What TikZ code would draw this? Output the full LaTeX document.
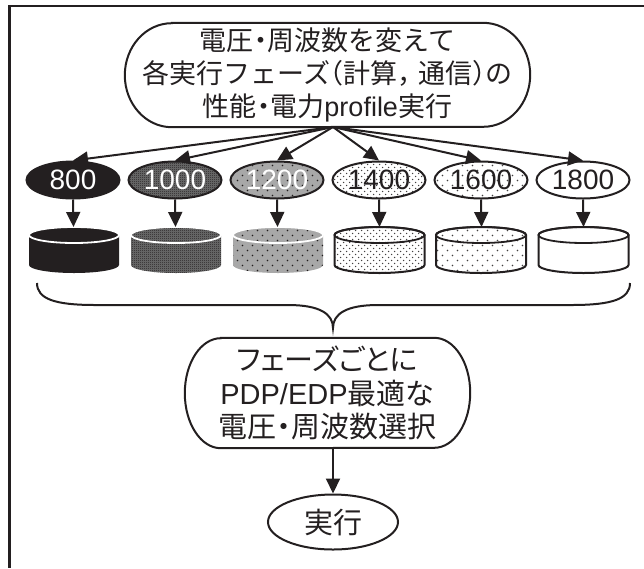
\documentclass[tikz,border=0pt]{standalone}
\usepackage{fontspec}
\usetikzlibrary{shapes.geometric,arrows.meta,patterns}
\newfontfamily\jp[RawFeature=+halt]{Noto Sans CJK JP}
\newfontfamily\jpp[RawFeature=+palt]{Noto Sans CJK JP}
\newfontfamily\lat{Liberation Sans}
\definecolor{ink}{HTML}{231F20}
\definecolor{midgray}{HTML}{6E6E6E}
\definecolor{lightgray}{HTML}{A8A8A8}

% fill textures for the frequency levels
\pgfdeclarepatternformonly{checker}{\pgfpointorigin}{\pgfpoint{2pt}{2pt}}{\pgfpoint{2pt}{2pt}}{%
  \pgfpathrectangle{\pgfpointorigin}{\pgfpoint{1pt}{1pt}}%
  \pgfpathrectangle{\pgfpoint{1pt}{1pt}}{\pgfpoint{1pt}{1pt}}%
  \pgfusepath{fill}}
\pgfdeclarepatternformonly{sparsedots}{\pgfpoint{-1pt}{-1pt}}{\pgfpoint{11pt}{11pt}}{\pgfpoint{10pt}{10pt}}{%
  \pgfpathcircle{\pgfpoint{2.5pt}{2.5pt}}{0.8pt}%
  \pgfpathcircle{\pgfpoint{7.5pt}{7.5pt}}{0.8pt}%
  \pgfusepath{fill}}
\pgfdeclarepatternformonly{densedots}{\pgfpoint{-1pt}{-1pt}}{\pgfpoint{7pt}{7pt}}{\pgfpoint{6pt}{6pt}}{%
  \pgfpathcircle{\pgfpoint{1.5pt}{1.5pt}}{0.75pt}%
  \pgfpathcircle{\pgfpoint{4.5pt}{4.5pt}}{0.75pt}%
  \pgfusepath{fill}}

\tikzset{
  outline/.style={line width=2pt, draw=ink},
  arr/.style={line width=2pt, draw=ink, -{Triangle[length=15pt,width=14pt]}},
  freq/.style={ellipse, line width=2pt, draw=ink, minimum width=93pt, minimum height=37pt,
    inner sep=0pt, font=\lat\fontsize{28pt}{28pt}\selectfont},
  s800/.style={fill=ink},
  s1000/.style={preaction={fill=midgray}, pattern=checker, pattern color=ink},
  s1200/.style={preaction={fill=lightgray}, pattern=sparsedots, pattern color=ink},
  s1400/.style={preaction={fill=white}, pattern=densedots, pattern color=ink!85},
  s1600/.style={preaction={fill=white}, pattern=sparsedots, pattern color=ink!85},
  s1800/.style={fill=white},
  txtbox/.style={inner sep=0pt, align=center, text=ink},
}

\begin{document}
\begin{tikzpicture}[x=1pt,y=1pt]
\useasboundingbox (0,0) rectangle (644,-568);

% frame (top and left edges)
\draw[line width=2.3pt, draw=ink] (644,-6) -- (9.5,-6) -- (9.5,-568);

% top process node
\node[txtbox, minimum width=405pt, minimum height=104pt,
      font=\jp\fontsize{27pt}{33pt}\selectfont] (top) at (327.5,-75)
  {電圧・周波数を変えて\\各実行フェーズ（計算，\kern7pt 通信）の\\性能・電力{\lat profile}実行};
\draw[outline] ([xshift=47pt]top.north west) -- ([xshift=-47pt]top.north east)
  arc (90:-90:47pt and 52pt) -- ([xshift=47pt]top.south west)
  arc (270:90:47pt and 52pt) -- cycle;
\coordinate (fan) at (333,-127);

% frequency levels
\foreach \i/\cx/\lab/\tc in {1/73/800/white, 2/175/1000/white, 3/277/1200/white,
                             4/379/1400/ink, 5/481/1600/ink, 6/583/1800/ink}{
  \node[freq, s\lab, text=\tc] (e\i) at (\cx,-180) {\lab};
  \coordinate (cyl\i) at (\cx+0.5,-227);
}

% cylinders: dark ones with a white rim, light ones outlined
\foreach \cx/\lab/\rim/\bw in {74/800/white/0, 176/1000/white/0, 278/1200/white/0,
                               379.5/1400/ink/2, 481/1600/ink/2, 583.5/1800/ink/2}{
  \ifdim\bw pt>0pt
    \path[s\lab, line width=2pt, draw=ink] (\cx-45,-235) -- (\cx-45,-265) arc (180:360:45 and 8)
      -- (\cx+45,-235) arc (0:180:45 and 8) -- cycle;
  \else
    \path[s\lab] (\cx-45,-235) -- (\cx-45,-265) arc (180:360:45 and 8)
      -- (\cx+45,-235) arc (0:180:45 and 8) -- cycle;
  \fi
  \draw[draw=\rim, line width=1.8pt] (\cx,-235) ellipse (45 and 8);
}

% arrows from the profile step to each level, and down to the cylinders
\foreach \i in {1,...,6}{
  \draw[arr] (fan) -- (e\i.north);
  \draw[arr] (e\i.south) -- (cyl\i);
}

% gathering brace
\coordinate (bt) at (333,-328);
\draw[outline] (37,-283) .. controls (37,-299) and (55,-305) .. (95,-305) -- (288,-305)
  .. controls (320,-305) and (333,-314) .. (bt)
  .. controls (333,-314) and (346,-305) .. (378,-305) -- (572,-305)
  .. controls (612,-305) and (630,-299) .. (630,-283);

% selection node
\node[txtbox, minimum width=285pt, minimum height=110pt,
      font=\jp\fontsize{29pt}{33.5pt}\selectfont] (mid) at (327.5,-393)
  {{\jpp フェーズごとに}\\{\lat PDP/EDP}最適な\\電圧・周波数選択};
\draw[outline] ([xshift=36pt]mid.north west) -- ([xshift=-36pt]mid.north east)
  arc (90:-90:36pt and 55pt) -- ([xshift=36pt]mid.south west)
  arc (270:90:36pt and 55pt) -- cycle;

% run node
\node[ellipse, outline, txtbox, minimum width=130pt, minimum height=55pt,
      font=\jp\fontsize{29pt}{29pt}\selectfont] (run) at (333,-522) {実行};

\draw[arr] (mid.south -| run) -- (run.north);
\end{tikzpicture}
\end{document}
